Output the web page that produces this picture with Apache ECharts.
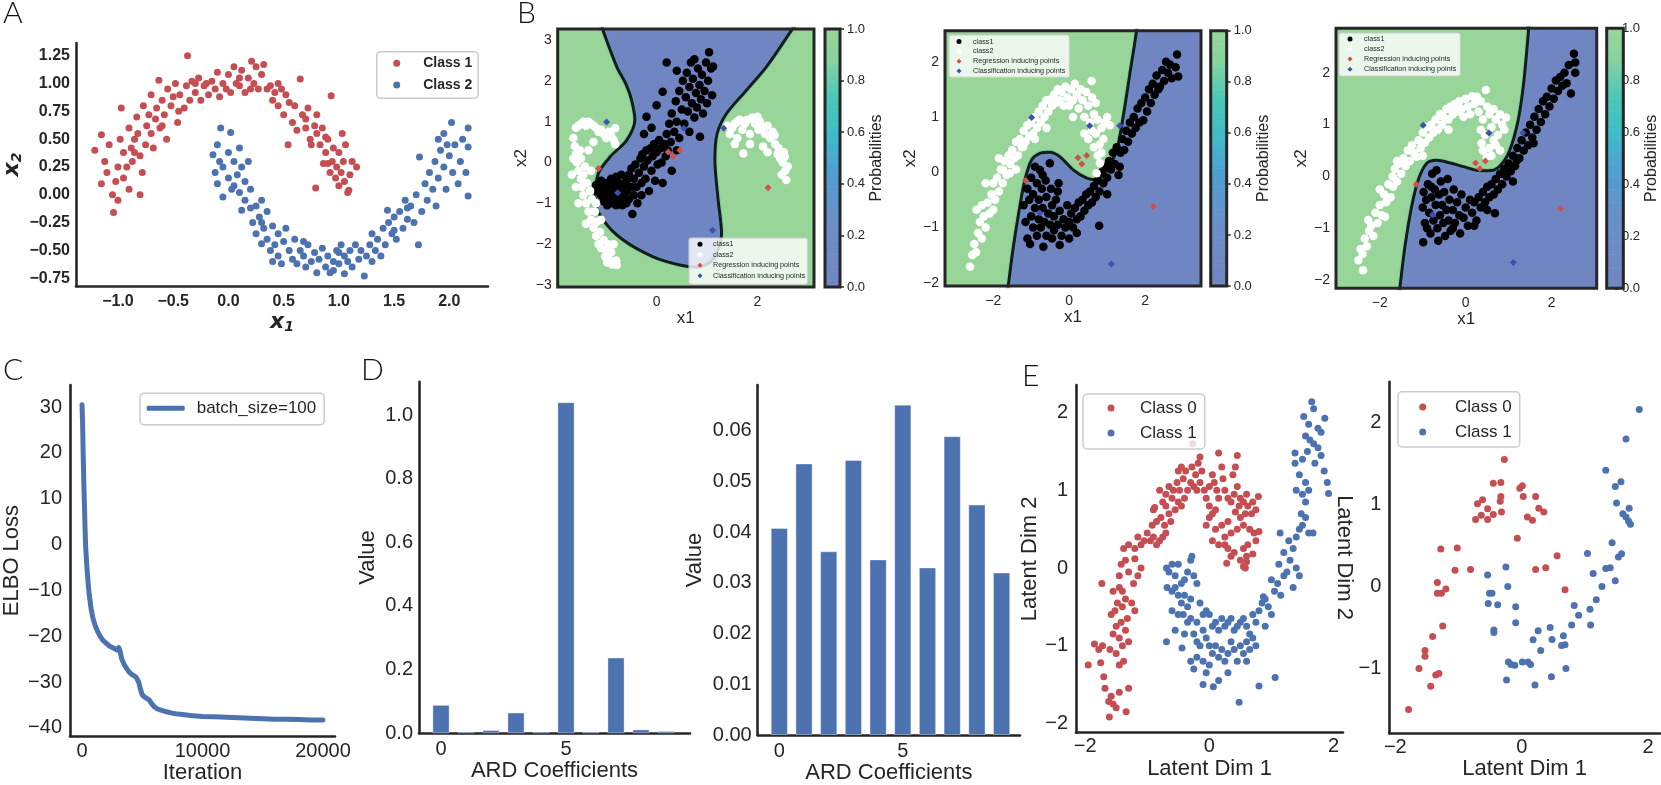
<!DOCTYPE html>
<html><head><meta charset="utf-8">
<script src="https://cdn.jsdelivr.net/npm/echarts@6/dist/echarts.min.js"></script>
<style>html,body{margin:0;padding:0;background:#fff}#c{width:1661px;height:785px}</style>
</head><body><div id="c"></div>
<script>
// ---------------- DATA ----------------
// Panel A (two moons)
const aClass1 = [[-1.21,0.40],[-1.15,0.54],[-1.15,0.10],[-1.1,0.2],[-1.12,0.3],[-1.08,0.45],[-1.05,0.0],[-1.04,-0.16],[-1.0,-0.05],[-1.0,0.25],[-0.97,0.78],[-0.98,0.5],[-0.95,0.38],[-0.95,0.15],[-0.92,0.25],[-0.9,0.05],[-0.9,0.6],[-0.88,0.42],[-0.87,0.3],[-0.85,0.5],[-0.83,0.7],[-0.82,0.55],[-0.8,0.35],[-0.8,0.0],[-0.78,0.2],[-0.77,0.8],[-0.75,0.45],[-0.74,0.62],[-0.72,0.72],[-0.7,0.55],[-0.7,0.9],[-0.68,0.42],[-0.66,0.68],[-0.65,0.78],[-0.63,1.03],[-0.62,0.6],[-0.6,0.85],[-0.58,0.72],[-0.56,0.5],[-0.55,0.95],[-0.52,0.8],[-0.5,0.88],[-0.48,1.0],[-0.46,0.65],[-0.44,0.9],[-0.4,0.78],[-0.38,0.98],[-0.37,1.25],[-0.35,0.85],[-0.33,1.02],[-0.3,0.92],[-0.27,1.05],[-0.25,0.85],[-0.22,0.98],[-0.2,1.0],[-0.18,0.9],[-0.15,1.02],[-0.12,0.95],[-0.1,1.1],[-0.08,0.88],[-0.05,1.0],[-0.02,0.95],[0.0,1.08],[0.02,0.92],[0.05,1.15],[0.07,1.0],[0.1,0.98],[0.12,1.12],[0.15,0.92],[0.18,1.05],[0.21,1.2],[0.23,1.0],[0.25,1.15],[0.27,0.95],[0.3,1.08],[0.32,1.17],[0.35,0.95],[0.38,0.98],[0.4,0.85],[0.42,0.92],[0.45,0.8],[0.48,0.95],[0.5,0.72],[0.52,0.9],[0.55,0.83],[0.58,0.65],[0.6,0.8],[0.62,0.58],[0.65,1.04],[0.67,0.72],[0.7,0.6],[0.72,0.78],[0.74,0.5],[0.75,0.45],[0.78,0.62],[0.8,0.55],[0.8,0.72],[0.83,0.45],[0.85,0.6],[0.86,0.28],[0.88,0.38],[0.9,0.5],[0.92,0.2],[0.93,0.89],[0.94,0.3],[0.95,0.42],[0.97,0.15],[0.98,0.25],[1.0,0.38],[1.0,0.08],[1.02,0.2],[1.04,0.3],[1.05,0.12],[1.06,0.45],[1.08,0.02],[1.09,0.04],[1.1,0.18],[1.12,0.3],[1.16,0.25],[0.79,0.06],[0.54,0.45],[0.9,0.28],[1.03,0.55],[-0.6,0.62],[-0.3,1.0],[0.1,1.05],[0.45,1.0],[0.7,0.68],[-0.85,0.38],[-1.02,0.12],[0.88,0.52],[0.2,0.95],[-0.45,0.75]];
const aClass2 = [[-0.07,0.6],[0.02,0.56],[-0.14,0.36],[-0.1,0.45],[-0.08,0.3],[-0.12,0.2],[-0.1,0.1],[-0.05,0.25],[-0.05,-0.02],[0.0,0.15],[0.0,0.38],[0.03,0.05],[0.05,0.3],[0.08,0.18],[0.1,0.42],[0.1,0.02],[0.12,0.25],[0.12,-0.14],[0.15,0.12],[0.15,-0.05],[0.18,0.3],[0.2,-0.12],[0.2,0.05],[0.22,-0.25],[0.25,-0.1],[0.25,-0.35],[0.28,-0.2],[0.3,-0.44],[0.3,-0.05],[0.32,-0.3],[0.35,-0.4],[0.35,-0.15],[0.38,-0.5],[0.4,-0.28],[0.42,-0.45],[0.45,-0.35],[0.45,-0.55],[0.48,-0.62],[0.5,-0.42],[0.52,-0.3],[0.55,-0.5],[0.58,-0.58],[0.6,-0.4],[0.62,-0.62],[0.65,-0.5],[0.68,-0.55],[0.7,-0.65],[0.72,-0.45],[0.75,-0.6],[0.78,-0.52],[0.8,-0.7],[0.82,-0.58],[0.85,-0.48],[0.88,-0.65],[0.9,-0.55],[0.92,-0.7],[0.95,-0.6],[0.98,-0.5],[1.0,-0.62],[1.02,-0.45],[1.05,-0.71],[1.05,-0.55],[1.08,-0.6],[1.1,-0.5],[1.12,-0.65],[1.15,-0.45],[1.18,-0.58],[1.2,-0.5],[1.23,-0.73],[1.25,-0.55],[1.28,-0.45],[1.3,-0.6],[1.33,-0.5],[1.35,-0.4],[1.38,-0.55],[1.4,-0.3],[1.42,-0.45],[1.44,-0.14],[1.45,-0.25],[1.48,-0.35],[1.5,-0.2],[1.52,-0.4],[1.55,-0.15],[1.58,-0.3],[1.6,-0.05],[1.62,-0.22],[1.65,-0.1],[1.68,-0.25],[1.7,0.0],[1.72,-0.45],[1.73,0.34],[1.75,-0.15],[1.78,0.1],[1.8,-0.05],[1.82,0.2],[1.85,0.05],[1.87,0.3],[1.88,-0.1],[1.9,0.15],[1.92,0.4],[1.95,0.25],[1.97,0.05],[2.0,0.35],[2.02,0.65],[2.03,0.2],[2.05,0.45],[2.08,0.1],[2.1,0.3],[2.12,0.5],[2.15,0.2],[2.17,0.6],[2.17,0.43],[2.17,-0.01],[1.9,0.5],[1.95,0.55],[0.05,0.08],[0.4,-0.6],[0.68,-0.42],[1.0,-0.52],[1.3,-0.35],[1.62,-0.12],[1.98,0.45],[0.3,-0.25],[0.95,-0.68],[1.5,-0.32]];
const aXTicks = [-1.0,-0.5,0.0,0.5,1.0,1.5,2.0];
const aYTicks = [-0.75,-0.5,-0.25,0,0.25,0.5,0.75,1.0,1.25];

// Panel B (shared inducing points)
const regInducing = [[-1.15,-0.15],[0.23,0.26],[0.33,0.15],[0.46,0.30],[2.21,-0.62]];
const clsInducing = [[-0.99,0.99],[-0.77,-0.74],[0.54,0.84],[1.33,0.84],[1.11,-1.66]];
const probTicks = [0,0.2,0.4,0.6,0.8,1.0];

const b1Class1 = [[-1.2,-0.55],[-1.15,-0.7],[-1.1,-0.45],[-1.1,-0.8],[-1.05,-0.6],[-1.05,-0.95],[-1.0,-0.5],[-1.0,-0.75],[-0.98,-1.05],[-0.95,-0.65],[-0.95,-0.9],[-0.9,-0.4],[-0.9,-0.7],[-0.88,-1.0],[-0.85,-0.55],[-0.85,-0.85],[-0.8,-0.35],[-0.8,-0.65],[-0.8,-1.05],[-0.75,-0.5],[-0.75,-0.9],[-0.7,-0.7],[-0.7,-0.3],[-0.68,-1.05],[-0.65,-0.55],[-0.65,-0.85],[-0.6,-0.45],[-0.6,-1.0],[-0.58,-0.7],[-0.55,-0.3],[-0.55,-0.9],[-0.5,-0.6],[-0.5,-0.15],[-0.48,-1.26],[-0.45,-0.8],[-0.45,-0.4],[-0.42,-0.05],[-0.4,-0.6],[-0.38,-1.0],[-0.35,-0.25],[-0.32,0.1],[-0.3,-0.5],[-0.3,-0.8],[-0.28,0.2],[-0.25,-0.1],[-0.22,-0.4],[-0.2,0.3],[-0.18,0.05],[-0.15,-0.7],[-0.12,0.35],[-0.1,-0.2],[-0.08,0.15],[-0.05,0.45],[-0.03,-0.45],[0.0,0.25],[0.02,-0.05],[0.05,0.55],[0.08,0.35],[0.1,0.0],[0.12,-0.5],[0.15,0.45],[0.18,0.15],[0.2,0.7],[0.22,0.3],[0.25,0.95],[0.28,0.5],[0.3,-0.2],[0.3,1.2],[0.35,0.75],[0.38,1.5],[0.4,0.3],[0.4,1.0],[0.45,1.75],[0.45,0.6],[0.5,1.3],[0.52,2.0],[0.55,0.95],[0.58,1.6],[0.6,2.2],[0.62,1.25],[0.65,0.75],[0.65,1.85],[0.68,2.45],[0.7,1.45],[0.72,2.05],[0.75,1.1],[0.75,2.53],[0.78,1.7],[0.8,1.35],[0.82,2.3],[0.85,1.9],[0.86,0.63],[0.88,1.55],[0.9,2.15],[0.92,1.2],[0.95,1.75],[0.98,2.45],[1.0,1.45],[1.02,2.0],[1.04,2.7],[1.08,2.3],[1.1,1.65],[1.12,2.35],[0.4,2.25],[0.12,1.73],[-0.2,1.12],[-0.1,0.85],[0.0,1.4],[0.2,2.45],[-0.25,0.7]];
const b1Class2 = [[-1.65,0.6],[-1.6,0.85],[-1.55,0.9],[-1.5,0.95],[-1.45,1.0],[-1.4,0.9],[-1.35,1.0],[-1.3,0.95],[-1.25,0.9],[-1.2,0.85],[-1.15,0.75],[-1.1,0.8],[-1.05,0.7],[-1.0,0.6],[-0.95,0.75],[-0.9,0.65],[-0.85,0.55],[-0.82,0.84],[-0.82,0.45],[-1.62,0.4],[-1.6,0.2],[-1.58,0.0],[-1.55,-0.2],[-1.52,0.3],[-1.5,-0.4],[-1.5,0.1],[-1.48,-0.6],[-1.45,-0.3],[-1.45,-0.8],[-1.42,-0.1],[-1.4,-1.0],[-1.38,-0.5],[-1.35,-1.2],[-1.32,-0.7],[-1.3,-1.4],[-1.28,-0.9],[-1.25,-1.6],[-1.22,-1.2],[-1.2,-1.8],[-1.18,-1.45],[-1.15,-2.0],[-1.12,-1.7],[-1.1,-2.1],[-1.05,-1.9],[-1.02,-2.3],[-1.0,-2.15],[-0.98,-2.45],[-0.95,-2.35],[-0.9,-2.2],[-0.88,-2.5],[-0.85,-2.0],[-0.8,-2.4],[-0.79,-2.51],[-1.65,0.1],[-1.68,-0.3],[-1.35,0.3],[-1.3,-0.2],[-1.25,0.5],[-1.6,-0.6],[-1.55,-1.0],[-1.2,-1.0],[-1.4,-1.5],[-1.1,-1.4],[-0.95,-2.0],[1.4,0.9],[1.45,0.7],[1.5,0.85],[1.55,0.95],[1.6,0.6],[1.65,1.05],[1.7,0.8],[1.72,0.22],[1.75,0.95],[1.8,1.05],[1.85,0.7],[1.9,1.1],[1.95,0.95],[2.0,1.12],[2.02,0.8],[2.05,1.0],[2.1,0.85],[2.11,0.39],[2.15,0.7],[2.2,0.9],[2.25,0.6],[2.3,0.75],[2.34,0.67],[2.35,0.45],[2.4,0.2],[2.42,0.35],[2.45,0.1],[2.5,0.0],[2.52,0.25],[2.54,0.14],[2.55,-0.2],[2.57,-0.43],[2.6,-0.1],[2.48,-0.3],[1.55,0.45],[1.85,0.45],[1.6,1.0],[2.2,0.25]];
const b1Boundary = [[-1.12,3.45],[-1.06,3.23],[-0.79,2.35],[-0.6,1.9],[-0.495,1.53],[-0.43,1.04],[-0.59,0.55],[-0.92,0.14],[-1.155,-0.27],[-1.22,-0.92],[-1.056,-1.41],[-0.66,-1.90],[-0.066,-2.31],[0.46,-2.51],[0.79,-2.56],[1.05,-2.45],[1.2,-2.2],[1.287,-1.74],[1.22,-0.92],[1.155,0.06],[1.2,0.71],[1.386,1.2],[1.78,1.77],[2.18,2.35],[2.67,3.23],[2.8,3.45]];
const b1XRange = [-1.96,3.12], b1YRange = [-3.05,3.27];
const b1XTicks = [0,2], b1YTicks = [-3,-2,-1,0,1,2,3];

const b2Class1 = [[-1.2,-0.6],[-1.15,-0.9],[-1.1,-0.3],[-1.1,-1.2],[-1.05,-0.5],[-1.03,-1.3],[-1.0,-0.8],[-1.0,-0.1],[-0.95,-1.0],[-0.95,-0.4],[-0.9,-0.65],[-0.9,0.1],[-0.85,-0.2],[-0.85,-1.15],[-0.8,-0.5],[-0.8,-0.85],[-0.77,0.04],[-0.75,-1.0],[-0.72,-0.3],[-0.7,-0.65],[-0.68,-1.35],[-0.65,-0.9],[-0.62,-0.15],[-0.6,-0.45],[-0.6,-1.15],[-0.55,-0.75],[-0.51,0.16],[-0.5,-0.95],[-0.48,-0.3],[-0.45,-0.6],[-0.4,-1.05],[-0.4,-0.8],[-0.35,-0.5],[-0.3,-0.95],[-0.28,-0.2],[-0.25,-1.32],[-0.25,-0.7],[-0.2,-1.15],[-0.15,-0.85],[-0.1,-1.0],[-0.05,-0.6],[0.0,-0.9],[0.0,-1.2],[0.05,-0.75],[0.1,-1.0],[0.15,-0.65],[0.2,-0.85],[0.25,-0.55],[0.3,-0.8],[0.35,-0.5],[0.4,-0.7],[0.45,-0.4],[0.5,-0.6],[0.55,-0.35],[0.6,-0.55],[0.65,-0.25],[0.7,-0.45],[0.75,-0.15],[0.79,-0.97],[0.8,-0.35],[0.85,0.0],[0.9,-0.2],[0.95,0.1],[1.0,-0.1],[1.05,0.2],[1.1,0.05],[1.15,0.35],[1.2,0.15],[1.25,0.45],[1.33,0.1],[1.35,0.35],[1.4,0.6],[1.45,0.4],[1.5,0.75],[1.55,0.55],[1.6,0.9],[1.65,0.7],[1.7,1.0],[1.75,0.8],[1.8,1.15],[1.85,0.9],[1.9,1.25],[1.95,0.94],[2.0,1.35],[2.05,1.1],[2.1,1.5],[2.15,1.25],[2.2,1.6],[2.25,1.4],[2.3,1.75],[2.35,1.5],[2.39,1.55],[2.45,1.85],[2.5,1.65],[2.55,2.0],[2.6,1.8],[2.65,1.95],[2.7,1.7],[2.84,2.13],[2.87,1.73],[2.8,1.9],[-0.3,-0.35],[-0.7,-0.05],[0.2,-1.1],[-0.45,-1.2],[1.0,-0.4],[1.3,-0.05]];
const b2Class2 = [[-2.61,-1.71],[-2.55,-1.5],[-2.5,-1.3],[-2.45,-1.45],[-2.44,-0.68],[-2.4,-1.1],[-2.35,-0.9],[-2.3,-1.2],[-2.3,-0.6],[-2.25,-0.8],[-2.2,-1.0],[-2.15,-0.55],[-2.1,-0.75],[-2.05,-0.4],[-2.0,-0.68],[-2.0,-0.2],[-1.95,-0.5],[-1.9,-0.1],[-1.85,-0.35],[-1.8,0.05],[-1.75,-0.2],[-1.74,0.04],[-1.7,0.2],[-1.65,-0.05],[-1.6,0.3],[-1.56,-0.02],[-1.55,0.15],[-1.5,0.4],[-1.45,0.25],[-1.4,0.55],[-1.35,0.3],[-1.3,0.6],[-1.25,0.45],[-1.21,0.46],[-1.2,0.75],[-1.15,0.55],[-1.1,0.85],[-1.05,0.65],[-1.0,0.9],[-0.95,0.7],[-0.9,1.0],[-0.85,0.8],[-0.8,1.1],[-0.75,0.9],[-0.7,1.2],[-0.65,1.0],[-0.6,1.3],[-0.55,1.1],[-0.51,1.31],[-0.45,1.2],[-0.4,1.4],[-0.35,1.25],[-0.3,1.5],[-0.25,1.3],[-0.2,1.45],[-0.15,1.2],[-0.1,1.55],[-0.05,1.35],[0.0,1.2],[0.05,1.5],[0.1,1.3],[0.15,1.6],[0.2,1.4],[0.25,1.15],[0.3,1.5],[0.35,1.3],[0.4,1.0],[0.45,1.45],[0.5,1.2],[0.55,0.9],[0.59,1.65],[0.6,1.35],[0.65,1.05],[0.7,1.25],[0.7,0.7],[0.75,0.95],[0.8,0.5],[0.81,0.16],[0.85,0.8],[0.9,0.6],[0.72,-0.02],[0.75,0.3],[0.65,0.45],[0.6,0.75],[0.95,0.9],[1.0,1.0],[1.07,0.85],[0.85,0.35],[0.5,0.6],[0.4,0.7],[-2.2,-0.2],[-1.85,0.25],[-1.4,0.05],[-0.9,0.6],[-0.6,0.8],[0.1,1.0]];
const b2Boundary = [[-1.65,-2.3],[-1.605,-2.06],[-1.47,-1.35],[-1.30,-0.62],[-1.166,-0.14],[-0.99,0.22],[-0.77,0.34],[-0.51,0.36],[-0.245,0.28],[0.105,0.04],[0.46,-0.11],[0.72,-0.14],[0.98,0.02],[1.25,0.40],[1.42,1.0],[1.6,1.79],[1.77,2.54],[1.8,2.8]];
const b2XRange = [-3.27,3.47], b2YRange = [-2.06,2.56];
const b23XTicks = [-2,0,2], b23YTicks = [-2,-1,0,1,2];

const b3Class1 = [[-0.99,-1.27],[-1.0,-0.6],[-0.98,-0.3],[-0.95,-0.9],[-0.92,-0.45],[-0.9,-1.0],[-0.88,-0.15],[-0.85,-0.7],[-0.82,-1.1],[-0.8,-0.4],[-0.78,0.05],[-0.75,-0.85],[-0.72,-0.25],[-0.7,-0.55],[-0.68,0.12],[-0.66,-1.0],[-0.64,-1.24],[-0.62,-0.35],[-0.6,-0.75],[-0.58,-0.1],[-0.55,-0.55],[-0.52,-0.9],[-0.5,-0.3],[-0.48,-1.15],[-0.45,-0.65],[-0.42,-0.05],[-0.4,-0.85],[-0.38,-0.45],[-0.35,-1.05],[-0.3,-0.65],[-0.28,-0.25],[-0.25,-0.9],[-0.2,-0.5],[-0.15,-0.75],[-0.13,-1.1],[-0.1,-0.35],[-0.05,-0.8],[0.0,-0.6],[0.05,-0.95],[0.1,-0.45],[0.15,-0.7],[0.2,-0.5],[0.25,-0.85],[0.3,-0.4],[0.35,-0.6],[0.4,-0.3],[0.45,-0.5],[0.5,-0.2],[0.55,-0.4],[0.6,-0.15],[0.65,-0.35],[0.68,-0.71],[0.7,-0.05],[0.75,-0.25],[0.8,0.05],[0.85,-0.15],[0.9,0.15],[0.95,0.0],[1.0,0.25],[1.05,0.1],[1.1,0.4],[1.15,0.2],[1.19,0.31],[1.2,0.55],[1.25,0.35],[1.3,0.7],[1.35,0.5],[1.4,0.85],[1.45,0.6],[1.5,1.0],[1.55,0.75],[1.58,0.64],[1.6,1.15],[1.65,0.9],[1.7,1.3],[1.75,1.05],[1.8,1.45],[1.85,1.2],[1.89,1.54],[1.95,1.35],[2.0,1.7],[2.05,1.5],[2.1,1.85],[2.15,1.65],[2.2,1.92],[2.25,1.75],[2.3,2.0],[2.35,1.8],[2.4,2.15],[2.45,1.6],[2.52,2.37],[2.55,2.0],[2.55,2.2],[-0.3,-1.0],[0.2,-0.95],[-0.8,-0.2],[1.1,-0.1],[0.5,-0.65]];
const b3Class2 = [[-2.39,-1.81],[-2.5,-1.62],[-2.45,-1.4],[-2.4,-1.5],[-2.35,-1.2],[-2.3,-1.35],[-2.27,-0.84],[-2.25,-1.05],[-2.2,-0.95],[-2.15,-1.15],[-2.1,-0.7],[-2.05,-0.9],[-2.0,-0.55],[-1.95,-0.75],[-1.9,-0.35],[-1.88,-0.78],[-1.85,-0.5],[-1.8,-0.15],[-1.75,-0.4],[-1.7,0.0],[-1.69,-0.2],[-1.65,0.15],[-1.6,-0.1],[-1.55,0.25],[-1.5,0.05],[-1.45,0.35],[-1.4,0.2],[-1.35,0.5],[-1.3,0.3],[-1.25,0.6],[-1.2,0.45],[-1.14,0.38],[-1.1,0.7],[-1.05,0.55],[-1.0,0.85],[-0.95,0.65],[-0.9,0.95],[-0.85,0.75],[-0.8,1.0],[-0.75,0.85],[-0.7,1.1],[-0.65,0.9],[-0.6,1.2],[-0.55,1.0],[-0.52,1.15],[-0.45,1.3],[-0.4,1.1],[-0.35,1.35],[-0.3,1.2],[-0.25,1.4],[-0.2,1.25],[-0.15,1.45],[-0.1,1.3],[-0.05,1.15],[0.0,1.5],[0.05,1.35],[0.1,1.2],[0.15,1.55],[0.2,1.4],[0.26,1.54],[0.3,1.25],[0.35,1.45],[0.4,1.1],[0.47,1.67],[0.5,1.35],[0.55,1.2],[0.6,0.95],[0.65,1.3],[0.7,1.1],[0.75,0.8],[0.8,1.2],[0.85,1.0],[0.9,0.9],[0.94,1.14],[0.37,0.64],[0.49,0.38],[0.45,0.8],[0.55,0.55],[0.6,0.4],[0.7,0.6],[0.8,0.5],[0.4,0.5],[0.65,0.7],[0.35,0.9],[-2.0,-0.25],[-1.6,0.3],[-1.0,0.4],[-0.4,0.9]];
const b3Boundary = [[-1.56,-2.4],[-1.53,-2.14],[-1.415,-1.36],[-1.26,-0.59],[-1.105,-0.07],[-0.91,0.25],[-0.68,0.31],[-0.366,0.26],[-0.056,0.19],[0.33,0.11],[0.64,0.12],[0.956,0.38],[1.19,0.96],[1.34,1.73],[1.46,2.79],[1.48,3.1]];
const b3XRange = [-3.02,3.05], b3YRange = [-2.16,2.86];

// Panel C (ELBO loss)
const cIter = [0,50,100,150,200,250,300,400,500,600,750,900,1100,1300,1500,1700,2000,2300,2600,2900,3050,3150,3300,3500,3700,3900,4100,4300,4500,4700,4850,5000,5200,5400,5600,5800,6000,6200,6500,7000,7500,8000,9000,10000,11000,12000,13000,14000,15000,16000,17000,18000,19000,20000];
const cElbo = [30.5,26,19,13,8.5,3.5,-0.5,-4.8,-8.3,-11,-14,-16,-17.8,-19,-20,-20.8,-21.5,-22.2,-22.6,-23.0,-22.5,-23.2,-25.0,-26.2,-27.0,-27.8,-28.3,-28.6,-29.0,-30.0,-31.6,-32.8,-33.3,-33.6,-34.0,-34.8,-35.4,-35.8,-36.1,-36.5,-36.8,-37.0,-37.3,-37.5,-37.6,-37.7,-37.8,-37.9,-38.0,-38.1,-38.1,-38.2,-38.3,-38.3];
const cXTicks = [0,10000,20000];
const cYTicks = [-40,-30,-20,-10,0,10,20,30];

// Panel D (ARD coefficients)
const dIndex = [0,1,2,3,4,5,6,7,8,9];
const d1Values = [0.089,0.005,0.010,0.065,0.005,1.04,0.005,0.2375,0.012,0.007];
const d2Values = [0.0408,0.0535,0.0362,0.0542,0.0346,0.0651,0.0330,0.0589,0.0454,0.0320];
const dXTicks = [0,5];
const d1YTicks = [0,0.2,0.4,0.6,0.8,1.0];
const d2YTicks = [0,0.01,0.02,0.03,0.04,0.05,0.06];

// Panel E (latent space)
const e1Class0 = [[-1.95,-1.25],[-1.85,-0.98],[-1.78,-1.05],[-1.72,-1.0],[-1.75,-1.22],[-1.7,-1.4],[-1.68,-1.55],[-1.62,-1.72],[-1.61,-1.92],[-1.58,-1.65],[-1.55,-1.75],[-1.5,-1.8],[-1.45,-1.6],[-1.34,-1.85],[-1.3,-1.55],[-1.45,-1.25],[-1.5,-1.1],[-1.4,-1.0],[-1.38,-1.2],[-1.6,-1.05],[-1.55,-0.85],[-1.5,-0.75],[-1.45,-0.9],[-1.42,-0.7],[-1.58,-0.6],[-1.52,-0.55],[-1.48,-0.45],[-1.4,-0.5],[-1.35,-0.8],[-1.32,-0.65],[-1.3,-0.95],[-1.55,-0.3],[-1.45,-0.25],[-1.4,-0.3],[-1.35,-0.4],[-1.25,-0.45],[-1.2,-0.55],[-1.73,-0.2],[-1.45,-0.1],[-1.42,0.05],[-1.35,0.1],[-1.3,-0.05],[-1.22,-0.2],[-1.15,-0.1],[-1.1,0.0],[-1.2,0.12],[-1.38,0.25],[-1.3,0.3],[-1.2,0.25],[-1.15,0.4],[-1.1,0.3],[-1.05,0.35],[-1.0,0.45],[-0.95,0.35],[-0.9,0.4],[-0.85,0.3],[-0.8,0.35],[-0.75,0.4],[-0.7,0.45],[-0.92,0.55],[-0.85,0.6],[-0.78,0.65],[-0.72,0.55],[-0.9,0.75],[-0.88,0.78],[-0.75,0.85],[-0.7,0.8],[-0.65,0.7],[-0.6,0.9],[-0.62,0.6],[-0.55,0.75],[-0.5,0.85],[-0.45,0.8],[-0.8,1.0],[-0.7,0.95],[-0.65,1.05],[-0.58,1.0],[-0.52,1.1],[-0.48,1.0],[-0.4,0.9],[-0.35,1.0],[-0.42,1.15],[-0.5,1.25],[-0.45,1.3],[-0.38,1.25],[-0.3,1.1],[-0.25,1.05],[-0.2,1.0],[-0.15,1.1],[-0.28,1.3],[-0.22,1.2],[-0.18,1.35],[-0.12,1.25],[-0.15,1.43],[-0.27,1.6],[-0.08,1.0],[-0.05,0.9],[0.0,0.8],[0.05,0.7],[0.1,0.75],[0.15,0.9],[0.12,1.0],[0.08,1.1],[0.05,1.2],[0.0,1.05],[0.15,1.48],[0.2,1.3],[0.22,1.15],[0.25,1.0],[0.3,0.9],[0.35,0.85],[0.4,0.95],[0.45,1.45],[0.42,1.3],[0.38,1.2],[0.45,1.05],[0.5,0.9],[0.48,0.8],[0.55,0.85],[0.6,0.95],[0.62,0.8],[0.7,0.85],[0.75,0.75],[0.79,0.92],[0.68,0.7],[0.58,0.7],[0.5,0.65],[0.42,0.72],[0.3,0.6],[0.2,0.55],[0.1,0.5],[0.0,0.65],[-0.05,0.55],[0.05,0.35],[0.15,0.3],[0.25,0.4],[0.35,0.45],[0.45,0.5],[0.55,0.55],[0.65,0.5],[0.72,0.45],[0.8,0.47],[0.75,0.35],[0.62,0.3],[0.55,0.25],[0.6,0.15],[0.5,0.1],[0.4,0.2],[0.28,0.06],[0.35,0.15],[0.55,0.02],[0.6,0.08],[0.58,0.0],[0.7,0.18],[0.25,0.3],[0.3,0.25]];
const e1Class1 = [[-0.69,0.0],[-0.65,-0.05],[-0.6,0.05],[-0.55,-0.1],[-0.5,0.05],[-0.45,-0.2],[-0.4,-0.15],[-0.35,-0.05],[-0.28,0.15],[-0.3,0.1],[-0.25,-0.1],[-0.2,-0.2],[-0.68,-0.25],[-0.6,-0.3],[-0.55,-0.25],[-0.5,-0.35],[-0.45,-0.45],[-0.4,-0.35],[-0.35,-0.5],[-0.3,-0.4],[-0.15,-0.45],[-0.6,-0.55],[-0.5,-0.6],[-0.42,-0.6],[-0.35,-0.7],[-0.3,-0.65],[-0.2,-0.7],[-0.1,-0.6],[-0.05,-0.55],[0.0,-0.6],[-0.55,-0.8],[-0.69,-0.95],[-0.44,-1.03],[-0.4,-0.85],[-0.25,-0.85],[-0.2,-0.95],[-0.15,-1.0],[-0.1,-0.8],[-0.05,-0.9],[0.0,-1.0],[0.05,-0.75],[0.1,-0.7],[0.15,-0.8],[0.2,-0.65],[0.25,-0.75],[0.3,-0.7],[0.35,-0.65],[0.4,-0.8],[0.45,-0.75],[0.5,-0.7],[0.55,-0.65],[0.6,-0.75],[0.65,-0.85],[0.7,-0.6],[0.75,-0.7],[0.8,-0.55],[0.85,-0.45],[0.9,-0.4],[0.95,-0.5],[0.87,-0.37],[-0.3,-1.2],[-0.25,-1.3],[-0.2,-1.15],[-0.1,-1.2],[-0.05,-1.35],[0.0,-1.25],[0.05,-1.1],[0.1,-1.0],[0.15,-1.15],[0.2,-1.05],[0.25,-1.2],[0.3,-1.1],[0.35,-0.95],[0.4,-1.05],[0.45,-1.2],[0.5,-1.0],[0.55,-1.1],[0.6,-0.95],[0.65,-1.05],[0.7,-0.9],[0.75,-1.0],[0.065,-1.53],[0.48,-1.73],[0.8,-1.52],[1.06,-1.41],[0.15,-1.45],[-0.1,-1.5],[0.3,-1.35],[0.6,-1.2],[0.9,-0.75],[1.0,-0.6],[1.05,-0.3],[1.1,-0.2],[1.0,-0.15],[1.15,-0.35],[1.2,-0.1],[1.12,0.05],[1.2,0.2],[1.25,-0.05],[1.3,0.1],[1.35,0.25],[1.28,0.35],[1.14,0.45],[1.4,0.0],[1.45,-0.1],[1.35,-0.25],[1.4,0.4],[1.45,0.5],[1.5,0.55],[1.55,0.65],[1.48,0.7],[1.6,0.45],[1.67,0.45],[1.55,0.85],[1.5,0.95],[1.4,1.0],[1.55,1.1],[1.6,1.0],[1.45,1.2],[1.38,1.48],[1.38,1.35],[1.5,1.4],[1.58,1.5],[1.62,1.65],[1.55,1.7],[1.68,1.6],[1.75,1.55],[1.8,1.45],[1.7,1.35],[1.85,1.25],[1.92,0.96],[1.9,1.1],[1.65,2.14],[1.68,2.05],[1.86,1.93],[1.75,1.8],[1.8,1.75],[1.6,1.85],[1.52,1.95]];
const e2Class0 = [[-1.79,-1.50],[-1.625,-1.0],[-1.44,-1.215],[-1.36,-1.08],[-1.31,-1.06],[-1.53,-0.78],[-1.53,-0.85],[-1.41,-0.61],[-1.25,-0.48],[-1.335,0.05],[-1.335,-0.08],[-1.27,-0.08],[-1.20,-0.03],[-1.28,0.46],[-1.02,0.47],[-1.055,0.20],[-0.81,0.21],[-0.73,0.82],[-0.70,1.01],[-0.62,1.06],[-0.64,0.87],[-0.54,0.95],[-0.54,0.82],[-0.45,0.88],[-0.45,1.26],[-0.33,1.27],[-0.33,1.10],[-0.34,1.04],[-0.32,0.91],[-0.275,1.55],[-0.07,0.59],[-0.03,1.20],[0.01,1.23],[0.025,1.10],[0.09,0.85],[0.17,0.81],[0.22,1.10],[0.27,0.955],[0.35,0.91],[0.22,0.21],[0.38,0.23],[0.56,0.375],[0.685,-0.04]];
const e2Class1 = [[1.86,2.16],[1.65,1.80],[1.33,1.42],[1.57,1.28],[1.48,1.22],[1.50,1.02],[1.70,0.955],[1.60,0.89],[1.65,0.85],[1.69,0.80],[1.72,0.76],[1.43,0.535],[1.04,0.405],[1.58,0.40],[1.53,0.36],[1.33,0.22],[1.40,0.23],[1.13,0.16],[1.48,0.07],[1.27,0.0],[1.18,-0.16],[1.08,-0.275],[0.90,-0.35],[0.83,-0.23],[0.79,-0.47],[1.09,-0.47],[0.66,-0.60],[0.685,-0.71],[0.63,-0.72],[0.70,-1.0],[0.48,-0.645],[0.45,-0.50],[0.26,-0.54],[0.18,-0.65],[0.30,-0.78],[0.47,-1.10],[0.21,-1.20],[0.14,-0.95],[0.10,-0.92],[0.01,-0.92],[-0.11,-0.96],[-0.17,-0.95],[-0.21,-0.92],[-0.24,-1.14],[-0.095,-0.44],[-0.095,-0.245],[-0.22,0.0],[-0.25,0.24],[-0.54,0.14],[-0.51,-0.08],[-0.47,-0.08],[-0.53,-0.205],[-0.38,-0.22],[-0.44,-0.53],[-0.44,-0.56]];
const eXTicks = [-2,0,2];
const e1YTicks = [-2,-1,0,1,2];
const e2YTicks = [-1,0,1,2];

// ---------------- STYLE / BUILD ----------------
const FONT = '"Liberation Sans", Arial, Helvetica, sans-serif';
const DARK = '#262626';
const RED = '#C44E52', BLUE = '#4C72B0';
const PGREEN = '#98D598', PBLUE = '#7086C2';
const grids = [], xAxes = [], yAxes = [], series = [], legends = [], titles = [], graphics = [];

function fmt(d){ return v => (v < 0 ? '\u2212' : '') + Math.abs(v).toFixed(d); }
function addGrid(r){ grids.push(r); return grids.length - 1; }
function axis(o){
  return {
    type: 'value', gridIndex: o.g, min: o.min, max: o.max, position: o.pos, z: o.z || 0, show: o.show !== false,
    axisLine: { show: o.line !== false, onZero: false, lineStyle: { color: DARK, width: o.lw || 2.6 } },
    axisTick: { show: !!o.tick, customValues: o.ticks, length: 4, lineStyle: { color: DARK, width: 1.5 } },
    splitLine: { show: false },
    axisLabel: { show: !!o.ticks, customValues: o.ticks, formatter: fmt(o.dec || 0), fontFamily: FONT,
      fontSize: o.fs || 20, fontWeight: o.bold ? 'bold' : 'normal', color: DARK, margin: o.margin || 6 },
    name: o.name || '', nameLocation: 'middle', nameGap: o.nameGap || 0, nameRotate: o.nameRotate,
    nameTextStyle: o.nameStyle || { fontFamily: FONT, fontSize: o.ns || 22, color: DARK }
  };
}
function addX(o){ xAxes.push(axis(Object.assign({pos:'bottom'}, o))); return xAxes.length - 1; }
function addY(o){ yAxes.push(axis(Object.assign({pos:'left'}, o))); return yAxes.length - 1; }
function scatter(xi, yi, data, color, size, name, extra){
  series.push(Object.assign({ type: 'scatter', name, xAxisIndex: xi, yAxisIndex: yi, data, symbolSize: size,
    itemStyle: { color, opacity: 1 }, z: 4, silent: true }, extra || {}));
}
function legend(o){
  legends.push({
    data: o.items, orient: 'vertical', left: o.left, top: o.top, padding: o.pad, itemGap: o.gap,
    itemWidth: o.iw, itemHeight: o.ih, selectedMode: false, z: 20,
    backgroundColor: 'rgba(255,255,255,0.8)', borderColor: '#cccccc', borderWidth: o.bw || 1.5, borderRadius: o.br || 4,
    textStyle: { fontFamily: FONT, fontSize: o.fs, fontWeight: o.bold ? 'bold' : 'normal', color: DARK, padding: [0,0,0,o.tp] }
  });
}
function item(name, icon, color){ return { name, icon, itemStyle: { color, borderWidth: 0 }, lineStyle: { color } }; }
function letter(t, left, top){
  titles.push({ text: t, left, top, padding: 0, textStyle: { fontFamily: 'Lato, "Open Sans", sans-serif', fontWeight: 300, fontSize: 30, color: '#111' } });
}

// colour map for the probability colour bar (0 -> blue, 1 -> green)
const cmapStops = [[0,[112,134,194]],[0.25,[106,143,201]],[0.45,[79,159,210]],[0.6,[63,189,200]],[0.74,[76,200,182]],[0.88,[134,211,160]],[1,[152,213,152]]];
function cmap(t){
  for (let i = 1; i < cmapStops.length; i++) {
    const t1 = cmapStops[i][0], c1 = cmapStops[i][1], t0 = cmapStops[i-1][0], c0 = cmapStops[i-1][1];
    if (t <= t1) {
      const f = (t - t0) / (t1 - t0);
      const r = Math.round(c0[0] + (c1[0] - c0[0]) * f), g = Math.round(c0[1] + (c1[1] - c0[1]) * f), b = Math.round(c0[2] + (c1[2] - c0[2]) * f);
      return 'rgb(' + r + ',' + g + ',' + b + ')';
    }
  }
  return 'rgb(152,213,152)';
}

// ---- Panel A ----
letter('A', 3, -2);
{
  const g = addGrid({ left: 73, top: 43, width: 415, height: 243 });
  const rich = { m: { fontFamily: 'DejaVu Sans', fontWeight: 'bold', fontStyle: 'italic', fontSize: 22, color: DARK },
                 s: { fontFamily: 'DejaVu Sans', fontWeight: 'bold', fontStyle: 'italic', fontSize: 14, color: DARK, padding: [10,0,0,0] } };
  const xi = addX({ g, min: -1.38, max: 2.35, ticks: aXTicks, dec: 1, fs: 16, bold: true, margin: 8,
    name: '{m|x}{s|1}', nameGap: 20, nameStyle: { rich } });
  const yi = addY({ g, min: -0.82, max: 1.364, ticks: aYTicks, dec: 2, fs: 16, bold: true, margin: 6,
    name: '{m|x}{s|2}', nameGap: 52, nameStyle: { rich } });
  scatter(xi, yi, aClass1, RED, 7, 'Class 1');
  scatter(xi, yi, aClass2, BLUE, 7, 'Class 2');
  legend({ items: [item('Class 1','circle',RED), item('Class 2','circle',BLUE)], left: 376.7, top: 51.7,
    pad: [4.6,6,6.3,16.5], gap: 7.7, iw: 7, ih: 7, fs: 14, bold: true, tp: 18 });
}

// ---- Panel B ----
letter('B', 517, -2);
function bPanel(p){
  const g = addGrid(Object.assign({ show: true, z: 5, borderColor: DARK, borderWidth: 3, backgroundColor: 'transparent' }, p.rect));
  const xi = addX({ g, min: p.xr[0], max: p.xr[1], ticks: p.xt, fs: 14, margin: 8, line: false,
    name: 'x1', nameGap: p.xGap, ns: 17 });
  const yi = addY({ g, min: p.yr[0], max: p.yr[1], ticks: p.yt, fs: 14, margin: 6, line: false,
    name: 'x2', nameGap: p.yGap, ns: 17 });
  const xr = p.xr, yr = p.yr, bnd = p.boundary, mode = p.mode;
  series.push({ type: 'custom', xAxisIndex: xi, yAxisIndex: yi, data: [0], clip: true, z: 1, silent: true,
    itemStyle: { color: PBLUE },
    renderItem: (params, api) => {
      const cs = params.coordSys;
      let poly, base, fill;
      if (mode === 'blueInside') {
        poly = bnd; base = PGREEN; fill = PBLUE;
      } else {
        const pad = 0.4;
        poly = bnd.concat([[xr[0]-pad, yr[1]+pad], [xr[0]-pad, yr[0]-pad]]);
        base = PBLUE; fill = PGREEN;
      }
      return { type: 'group', children: [
        { type: 'rect', shape: { x: cs.x, y: cs.y, width: cs.width, height: cs.height }, style: { fill: base } },
        { type: 'polygon', shape: { points: poly.map(q => api.coord(q)), smooth: 0.3 }, style: { fill } }
      ] };
    } });
  series.push({ type: 'line', xAxisIndex: xi, yAxisIndex: yi, data: bnd, showSymbol: false, smooth: 0.3, clip: true, z: 2,
    lineStyle: { color: 'rgba(70,190,190,0.35)', width: 5 }, itemStyle: { color: '#46bebe' }, silent: true });
  series.push({ type: 'line', xAxisIndex: xi, yAxisIndex: yi, data: bnd, showSymbol: false, smooth: 0.3, clip: true, z: 3,
    lineStyle: { color: '#1a1a1a', width: 3 }, itemStyle: { color: '#1a1a1a' }, silent: true });
  scatter(xi, yi, p.c1, '#000000', 8.5, 'class1');
  scatter(xi, yi, p.c2, '#ffffff', 8.5, 'class2');
  scatter(xi, yi, regInducing, '#D34F4F', 7, 'Regression inducing points', { symbol: 'diamond', z: 5 });
  scatter(xi, yi, clsInducing, '#3A52B0', 7, 'Classification inducing points', { symbol: 'diamond', z: 5 });

  // colour bar: axis with ticks/labels on its own grid, gradient painted on an upper layer
  const cb = p.cb;
  const cg = addGrid(Object.assign({ show: false }, cb));
  const cx = addX({ g: cg, min: 0, max: 1, show: false });
  const cy = addY({ g: cg, min: 0, max: 1, ticks: probTicks, dec: 1, fs: 13, margin: 7, tick: true, line: false, pos: 'right',
    name: 'Probabilities', nameGap: p.pGap, nameRotate: 90, ns: 16 });
  series.push({ type: 'scatter', xAxisIndex: cx, yAxisIndex: cy, data: [[0.5, 0.5]], symbolSize: 0, silent: true,
    itemStyle: { color: 'rgba(0,0,0,0)' } });
  const N = 100;
  for (let i = 0; i < N; i++) {
    const y0 = cb.top + cb.height * (1 - (i + 1) / N);
    graphics.push({ type: 'rect', zlevel: 1, z: 10, silent: true,
      shape: { x: cb.left, y: y0 - 0.3, width: cb.width, height: cb.height / N + 0.6 },
      style: { fill: cmap((i + 0.5) / N), stroke: 'rgba(0,0,0,0)', lineWidth: 0 } });
  }
  graphics.push({ type: 'rect', zlevel: 1, z: 11, silent: true,
    shape: { x: cb.left, y: cb.top, width: cb.width, height: cb.height },
    style: { fill: 'rgba(0,0,0,0)', stroke: DARK, lineWidth: 3 } });

  legend({ items: [item('class1','circle','#000'), item('class2','circle','#fff'),
    item('Regression inducing points','diamond','#D34F4F'), item('Classification inducing points','diamond','#3A52B0')],
    left: p.lg.left, top: p.lg.top, pad: p.lg.pad, gap: p.lg.gap, iw: 5, ih: 5, fs: 7.2, tp: p.lg.tp, bw: 1, br: 2 });
}
bPanel({ rect: { left: 557.7, top: 29, width: 256.3, height: 258 }, cb: { left: 825, top: 29, width: 15, height: 258 },
  xr: b1XRange, yr: b1YRange, xt: b1XTicks, yt: b1YTicks, boundary: b1Boundary, mode: 'blueInside',
  c1: b1Class1, c2: b1Class2, xGap: 21, yGap: 28, pGap: 25,
  lg: { left: 689, top: 238, pad: [2.7,2.3,5.1,8.5], gap: 3.5, tp: 5.5 } });
bPanel({ rect: { left: 945, top: 30.7, width: 256, height: 255.3 }, cb: { left: 1210.7, top: 30.7, width: 16, height: 255.3 },
  xr: b2XRange, yr: b2YRange, xt: b23XTicks, yt: b23YTicks, boundary: b2Boundary, mode: 'greenLeft',
  c1: b2Class1, c2: b2Class2, xGap: 22, yGap: 22, pGap: 23,
  lg: { left: 949, top: 35, pad: [3.1,4,2.7,7.5], gap: 2.8, tp: 6.5 } });
bPanel({ rect: { left: 1336, top: 28.3, width: 260.7, height: 260 }, cb: { left: 1606.7, top: 28.3, width: 16.6, height: 260 },
  xr: b3XRange, yr: b3YRange, xt: b23XTicks, yt: b23YTicks, boundary: b3Boundary, mode: 'greenLeft',
  c1: b3Class1, c2: b3Class2, xGap: 21, yGap: 22, pGap: 22,
  lg: { left: 1339, top: 33, pad: [2.4,4,3.4,8.5], gap: 3.1, tp: 6.5 } });

// ---- Panel C ----
letter('C', 3, 355);
{
  const g = addGrid({ left: 66.7, top: 385, width: 268.3, height: 351.7 });
  const xi = addX({ g, min: -1000, max: 21000, ticks: cXTicks, fs: 20, margin: 5, name: 'Iteration', nameGap: 25 });
  const yi = addY({ g, min: -41.8, max: 34.8, ticks: cYTicks, fs: 20, margin: 8, name: 'ELBO Loss', nameGap: 47 });
  series.push({ type: 'line', name: 'batch_size=100', xAxisIndex: xi, yAxisIndex: yi,
    data: cIter.map((v, i) => [v, cElbo[i]]), showSymbol: false, silent: true,
    lineStyle: { color: BLUE, width: 5, cap: 'round', join: 'round' }, itemStyle: { color: BLUE } });
  legend({ items: [item('batch_size=100', 'roundRect', BLUE)], left: 140, top: 393.3,
    pad: [6.5,8,8,6.7], gap: 5, iw: 38, ih: 5, fs: 17, tp: 7 });
}

// ---- Panel D ----
letter('D', 361, 355);
function dPanel(rect, xr, ymax, vals, yt, dec, yGap){
  const g = addGrid(rect);
  const xi = addX({ g, min: xr[0], max: xr[1], ticks: dXTicks, fs: 20, margin: 6, name: 'ARD Coefficients', nameGap: 26 });
  const yi = addY({ g, min: 0, max: ymax, ticks: yt, dec, fs: 20, margin: 6, name: 'Value', nameGap: yGap });
  series.push({ type: 'bar', xAxisIndex: xi, yAxisIndex: yi, data: dIndex.map((v, i) => [v, vals[i]]),
    barWidth: 17, silent: true, itemStyle: { color: BLUE, borderColor: 'rgba(255,255,255,0.45)', borderWidth: 0.8 } });
}
dPanel({ left: 419, top: 381.7, width: 271, height: 351.6 }, [-0.88, 9.96], 1.1046, d1Values, d1YTicks, 1, 40);
dPanel({ left: 757.7, top: 385, width: 262.3, height: 350 }, [-0.875, 9.745], 0.069, d2Values, d2YTicks, 2, 52);

// ---- Panel E ----
letter('E', 1022, 361);
function ePanel(rect, xr, yr, yt, c0, c1, yGap, yRot, lg){
  const g = addGrid(rect);
  const xi = addX({ g, min: xr[0], max: xr[1], ticks: eXTicks, fs: 20, margin: 4, name: 'Latent Dim 1', nameGap: 24 });
  const yi = addY({ g, min: yr[0], max: yr[1], ticks: yt, fs: 20, margin: 8, name: 'Latent Dim 2', nameGap: yGap, nameRotate: yRot });
  scatter(xi, yi, c0, RED, 7, 'Class 0');
  scatter(xi, yi, c1, BLUE, 7, 'Class 1');
  legend({ items: [item('Class 0','circle',RED), item('Class 1','circle',BLUE)], left: lg.left, top: lg.top,
    pad: lg.pad, gap: 8, iw: 7, ih: 7, fs: 17, tp: lg.tp });
}
ePanel({ left: 1076, top: 385, width: 267, height: 347.7 }, [-2.147, 2.153], [-2.121, 2.357], e1YTicks, e1Class0, e1Class1, 32, 90,
  { left: 1083, top: 394, pad: [5.5,8,7.5,24.5], tp: 20.5 });
ePanel({ left: 1389.3, top: 381.7, width: 270.7, height: 351.6 }, [-2.095, 2.188], [-1.79, 2.5], e2YTicks, e2Class0, e2Class1, 20, -90,
  { left: 1398, top: 391.7, pad: [6.8,8,6.5,21.2], tp: 23.8 });

const chart = echarts.init(document.getElementById('c'), null, { renderer: 'canvas' });
chart.setOption({
  animation: false, backgroundColor: '#ffffff',
  title: titles, grid: grids, xAxis: xAxes, yAxis: yAxes, legend: legends, series,
  graphic: { elements: graphics }
});
</script></body></html>
